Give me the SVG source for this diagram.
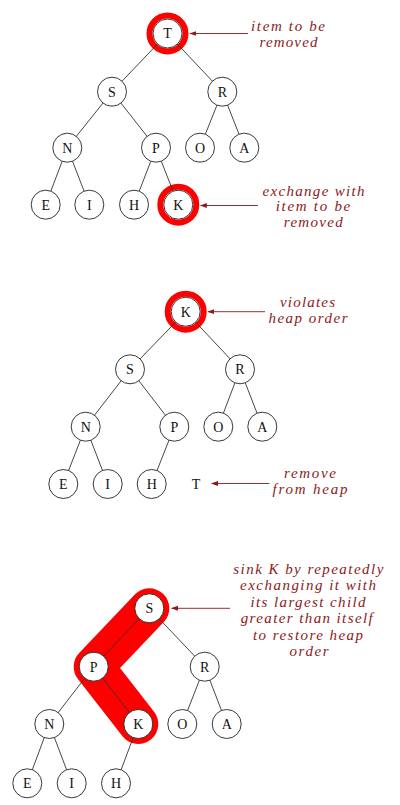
<svg xmlns="http://www.w3.org/2000/svg" width="400" height="805" viewBox="0 0 400 805">
<style>
.edge{stroke:#333;stroke-width:0.9;fill:none}
.node circle{fill:#fff;stroke:#222;stroke-width:0.9}
.node text,.plain{font-family:"Liberation Serif","Times New Roman",serif;font-size:14px;fill:#111;text-anchor:middle}
.ring{fill:none;stroke:#ff0000;stroke-width:6}
.band{fill:none;stroke:#ff0000;stroke-width:40;stroke-linecap:round;stroke-linejoin:round}
.ann{stroke:#8b1a1a;stroke-width:0.9;fill:none;marker-end:url(#ah)}
.note{font-family:"Liberation Serif","Times New Roman",serif;font-style:italic;font-size:15px;fill:#8b1a1a;text-anchor:middle}
</style>
<defs>
<marker id="ah" viewBox="0 0 10 10" refX="9" refY="5" markerWidth="7" markerHeight="7" orient="auto" markerUnits="userSpaceOnUse">
<path d="M0,1.5 L10,5 L0,8.5 z" fill="#8b1a1a"/>
</marker>
</defs>

<!-- Highlights -->
<g id="highlights">
<circle class="ring" cx="167.5" cy="33.5" r="18"/>
<circle class="ring" cx="178.3" cy="204.7" r="18"/>
<circle class="ring" cx="185.7" cy="311.7" r="18"/>
<path class="band" d="M149.3,608.3 L93.7,666.7 L138.3,724"/>
</g>

<!-- Connectors -->
<g id="connectors">
<line class="edge" x1="167.5" y1="33.5" x2="112" y2="91.7"/>
<line class="edge" x1="167.5" y1="33.5" x2="222.3" y2="91.7"/>
<line class="edge" x1="112" y1="91.7" x2="67.3" y2="147.7"/>
<line class="edge" x1="112" y1="91.7" x2="156" y2="147.7"/>
<line class="edge" x1="222.3" y1="91.7" x2="200" y2="147.7"/>
<line class="edge" x1="222.3" y1="91.7" x2="244.3" y2="147.7"/>
<line class="edge" x1="67.3" y1="147.7" x2="45.7" y2="204.7"/>
<line class="edge" x1="67.3" y1="147.7" x2="89.3" y2="204.7"/>
<line class="edge" x1="156" y1="147.7" x2="134" y2="204.7"/>
<line class="edge" x1="156" y1="147.7" x2="178.3" y2="204.7"/>

<line class="edge" x1="185.7" y1="311.7" x2="130" y2="369.3"/>
<line class="edge" x1="185.7" y1="311.7" x2="240" y2="369.3"/>
<line class="edge" x1="130" y1="369.3" x2="85.7" y2="426.7"/>
<line class="edge" x1="130" y1="369.3" x2="174.3" y2="426.7"/>
<line class="edge" x1="240" y1="369.3" x2="218.3" y2="426.7"/>
<line class="edge" x1="240" y1="369.3" x2="262.3" y2="426.7"/>
<line class="edge" x1="85.7" y1="426.7" x2="63.3" y2="484"/>
<line class="edge" x1="85.7" y1="426.7" x2="107.7" y2="484"/>
<line class="edge" x1="174.3" y1="426.7" x2="151.7" y2="484"/>

<line class="edge" x1="149.3" y1="608.3" x2="93.7" y2="666.7"/>
<line class="edge" x1="149.3" y1="608.3" x2="204.7" y2="666.7"/>
<line class="edge" x1="93.7" y1="666.7" x2="49.3" y2="724"/>
<line class="edge" x1="93.7" y1="666.7" x2="138.3" y2="724"/>
<line class="edge" x1="204.7" y1="666.7" x2="182.3" y2="724"/>
<line class="edge" x1="204.7" y1="666.7" x2="226.7" y2="724"/>
<line class="edge" x1="49.3" y1="724" x2="27.3" y2="783.3"/>
<line class="edge" x1="49.3" y1="724" x2="71.7" y2="783.3"/>
<line class="edge" x1="138.3" y1="724" x2="116" y2="783.3"/>

<line class="ann" x1="248" y1="33.5" x2="190" y2="33.5"/>
<line class="ann" x1="258" y1="205.5" x2="200.5" y2="205.5"/>
<line class="ann" x1="265" y1="311.7" x2="208" y2="311.7"/>
<line class="ann" x1="269.3" y1="483.5" x2="211.7" y2="483.5"/>
<line class="ann" x1="230" y1="608.3" x2="171.7" y2="608.3"/>
</g>

<!-- Diagram 1 nodes -->
<g id="d1-T" class="node"><circle cx="167.5" cy="33.5" r="14.5"/><text x="167.5" y="38.3">T</text></g>
<g id="d1-S" class="node"><circle cx="112" cy="91.7" r="14.5"/><text x="112" y="96.5">S</text></g>
<g id="d1-R" class="node"><circle cx="222.3" cy="91.7" r="14.5"/><text x="222.3" y="96.5">R</text></g>
<g id="d1-N" class="node"><circle cx="67.3" cy="147.7" r="14.5"/><text x="67.3" y="152.5">N</text></g>
<g id="d1-P" class="node"><circle cx="156" cy="147.7" r="14.5"/><text x="156" y="152.5">P</text></g>
<g id="d1-O" class="node"><circle cx="200" cy="147.7" r="14.5"/><text x="200" y="152.5">O</text></g>
<g id="d1-A" class="node"><circle cx="244.3" cy="147.7" r="14.5"/><text x="244.3" y="152.5">A</text></g>
<g id="d1-E" class="node"><circle cx="45.7" cy="204.7" r="14.5"/><text x="45.7" y="209.5">E</text></g>
<g id="d1-I" class="node"><circle cx="89.3" cy="204.7" r="14.5"/><text x="89.3" y="209.5">I</text></g>
<g id="d1-H" class="node"><circle cx="134" cy="204.7" r="14.5"/><text x="134" y="209.5">H</text></g>
<g id="d1-K" class="node"><circle cx="178.3" cy="204.7" r="14.5"/><text x="178.3" y="209.5">K</text></g>

<!-- Diagram 2 nodes -->
<g id="d2-K" class="node"><circle cx="185.7" cy="311.7" r="14.5"/><text x="185.7" y="316.5">K</text></g>
<g id="d2-S" class="node"><circle cx="130" cy="369.3" r="14.5"/><text x="130" y="374.1">S</text></g>
<g id="d2-R" class="node"><circle cx="240" cy="369.3" r="14.5"/><text x="240" y="374.1">R</text></g>
<g id="d2-N" class="node"><circle cx="85.7" cy="426.7" r="14.5"/><text x="85.7" y="431.5">N</text></g>
<g id="d2-P" class="node"><circle cx="174.3" cy="426.7" r="14.5"/><text x="174.3" y="431.5">P</text></g>
<g id="d2-O" class="node"><circle cx="218.3" cy="426.7" r="14.5"/><text x="218.3" y="431.5">O</text></g>
<g id="d2-A" class="node"><circle cx="262.3" cy="426.7" r="14.5"/><text x="262.3" y="431.5">A</text></g>
<g id="d2-E" class="node"><circle cx="63.3" cy="484" r="14.5"/><text x="63.3" y="488.8">E</text></g>
<g id="d2-I" class="node"><circle cx="107.7" cy="484" r="14.5"/><text x="107.7" y="488.8">I</text></g>
<g id="d2-H" class="node"><circle cx="151.7" cy="484" r="14.5"/><text x="151.7" y="488.8">H</text></g>
<g id="d2-T"><text class="plain" x="196" y="488.8">T</text></g>

<!-- Diagram 3 nodes -->
<g id="d3-S" class="node"><circle cx="149.3" cy="608.3" r="14.5"/><text x="149.3" y="613.1">S</text></g>
<g id="d3-P" class="node"><circle cx="93.7" cy="666.7" r="14.5"/><text x="93.7" y="671.5">P</text></g>
<g id="d3-R" class="node"><circle cx="204.7" cy="666.7" r="14.5"/><text x="204.7" y="671.5">R</text></g>
<g id="d3-N" class="node"><circle cx="49.3" cy="724" r="14.5"/><text x="49.3" y="728.8">N</text></g>
<g id="d3-K" class="node"><circle cx="138.3" cy="724" r="14.5"/><text x="138.3" y="728.8">K</text></g>
<g id="d3-O" class="node"><circle cx="182.3" cy="724" r="14.5"/><text x="182.3" y="728.8">O</text></g>
<g id="d3-A" class="node"><circle cx="226.7" cy="724" r="14.5"/><text x="226.7" y="728.8">A</text></g>
<g id="d3-E" class="node"><circle cx="27.3" cy="783.3" r="14.5"/><text x="27.3" y="788.1">E</text></g>
<g id="d3-I" class="node"><circle cx="71.7" cy="783.3" r="14.5"/><text x="71.7" y="788.1">I</text></g>
<g id="d3-H" class="node"><circle cx="116" cy="783.3" r="14.5"/><text x="116" y="788.1">H</text></g>

<!-- Annotations -->
<g id="notes">
<text class="note" x="288" y="31" textLength="74" lengthAdjust="spacing">item to be</text>
<text class="note" x="288.5" y="46.7" textLength="58" lengthAdjust="spacing">removed</text>
<text class="note" x="313.5" y="196" textLength="102" lengthAdjust="spacing">exchange with</text>
<text class="note" x="313" y="211.3" textLength="74.5" lengthAdjust="spacing">item to be</text>
<text class="note" x="313.3" y="226.7" textLength="59" lengthAdjust="spacing">removed</text>
<text class="note" x="307.5" y="307.3" textLength="55" lengthAdjust="spacing">violates</text>
<text class="note" x="308" y="323" textLength="79" lengthAdjust="spacing">heap order</text>
<text class="note" x="310" y="478.3" textLength="52" lengthAdjust="spacing">remove</text>
<text class="note" x="310" y="494" textLength="75" lengthAdjust="spacing">from heap</text>
<text class="note" x="308.3" y="573.5" textLength="150" lengthAdjust="spacing">sink K by repeatedly</text>
<text class="note" x="308" y="590" textLength="136" lengthAdjust="spacing">exchanging it with</text>
<text class="note" x="308" y="606.5" textLength="115" lengthAdjust="spacing">its largest child</text>
<text class="note" x="306.7" y="623" textLength="132" lengthAdjust="spacing">greater than itself</text>
<text class="note" x="308" y="639.5" textLength="110" lengthAdjust="spacing">to restore heap</text>
<text class="note" x="309" y="656" textLength="39" lengthAdjust="spacing">order</text>
</g>
</svg>
